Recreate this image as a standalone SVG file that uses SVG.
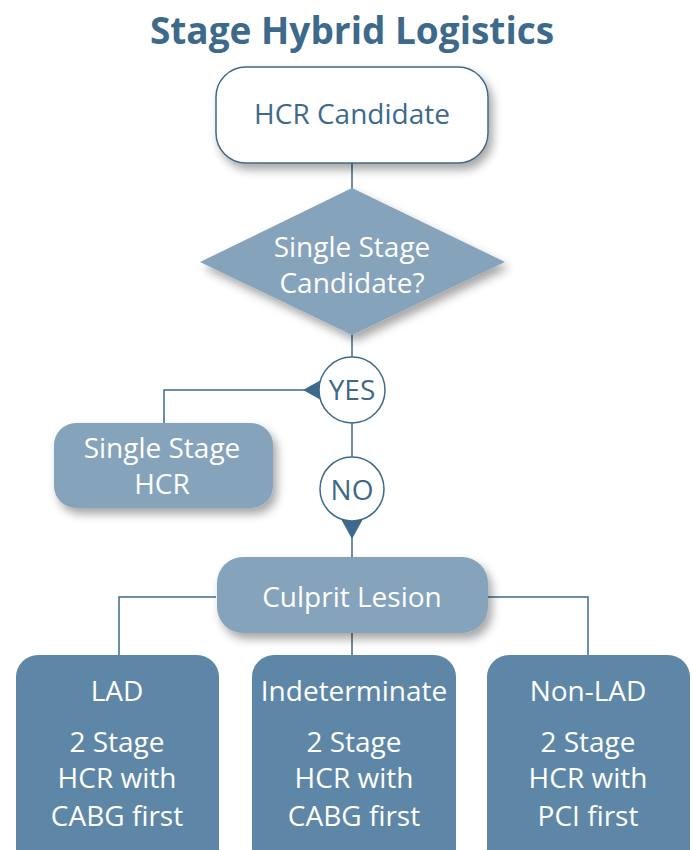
<svg xmlns="http://www.w3.org/2000/svg" width="693" height="850" viewBox="0 0 693 850">
<defs>
<filter id="sh" x="-20%" y="-20%" width="150%" height="160%">
<feDropShadow dx="4" dy="6" stdDeviation="5" flood-color="#000" flood-opacity="0.35"/>
</filter>
</defs>
<style>
text{font-family:"Open Sans","Noto Sans",sans-serif;text-anchor:middle}
.t{font-size:28px;fill:#fff}
.d{font-size:28px;fill:#3d6a8a}
.ln{stroke:#3d6a8a;stroke-width:1.5;fill:none}
.lt{fill:#86a3bc}
.dk{fill:#5e87a7}
.ar{fill:#3d6a8a}
</style>
<rect width="693" height="850" fill="#fff"/>
<text x="352" y="44" style="font-size:37px;font-weight:bold;fill:#3d6a8a">Stage Hybrid Logistics</text>
<g id="connectors">
<path class="ln" d="M352 163V190"/>
<path class="ln" d="M352 333V357"/>
<path class="ln" d="M319 390H164V424"/>
<path class="ln" d="M352 423V457"/>
<path class="ln" d="M352 519V558"/>
<path class="ln" d="M216 597H119V656"/>
<path class="ln" d="M488 597H588V656"/>
<path class="ln" d="M352 633V656"/>
<polygon class="ar" points="303,390 321,380 321,400"/>
<polygon class="ar" points="341,519 363,519 352,539"/>
</g>
<g id="hcr-candidate">
<rect x="216" y="67" width="272" height="96" rx="30" fill="#fff" stroke="#3d6a8a" stroke-width="1.5" filter="url(#sh)"/>
<text class="d" x="352" y="124">HCR Candidate</text>
</g>
<g id="single-stage-candidate">
<polygon class="lt" points="352,188 505,262 352,335 200,262" filter="url(#sh)"/>
<text class="t" x="352" y="257">Single Stage</text>
<text class="t" x="352" y="293">Candidate?</text>
</g>
<g id="yes">
<circle cx="352" cy="390" r="33" fill="#fff" stroke="#3d6a8a" stroke-width="1.5"/>
<text class="d" x="352" y="400">YES</text>
</g>
<g id="single-stage-hcr">
<rect class="lt" x="54" y="423" width="219" height="85" rx="22" filter="url(#sh)"/>
<text class="t" x="162" y="458">Single Stage</text>
<text class="t" x="162" y="494">HCR</text>
</g>
<g id="no">
<circle cx="352" cy="489" r="32" fill="#fff" stroke="#3d6a8a" stroke-width="1.5"/>
<text class="d" x="352" y="500">NO</text>
</g>
<g id="culprit-lesion">
<rect class="lt" x="217" y="557" width="271" height="76" rx="26" filter="url(#sh)"/>
<text class="t" x="352" y="607">Culprit Lesion</text>
</g>
<g id="lad">
<rect class="dk" x="16" y="655" width="203" height="220" rx="22"/>
<text class="t" x="117" y="701">LAD</text>
<text class="t" x="117" y="752">2 Stage</text>
<text class="t" x="117" y="788">HCR with</text>
<text class="t" x="117" y="826">CABG first</text>
</g>
<g id="indeterminate">
<rect class="dk" x="252" y="655" width="204" height="220" rx="22"/>
<text class="t" x="354" y="701">Indeterminate</text>
<text class="t" x="354" y="752">2 Stage</text>
<text class="t" x="354" y="788">HCR with</text>
<text class="t" x="354" y="826">CABG first</text>
</g>
<g id="non-lad">
<rect class="dk" x="487" y="655" width="203" height="220" rx="22"/>
<text class="t" x="588" y="701">Non-LAD</text>
<text class="t" x="588" y="752">2 Stage</text>
<text class="t" x="588" y="788">HCR with</text>
<text class="t" x="588" y="826">PCI first</text>
</g>
</svg>
